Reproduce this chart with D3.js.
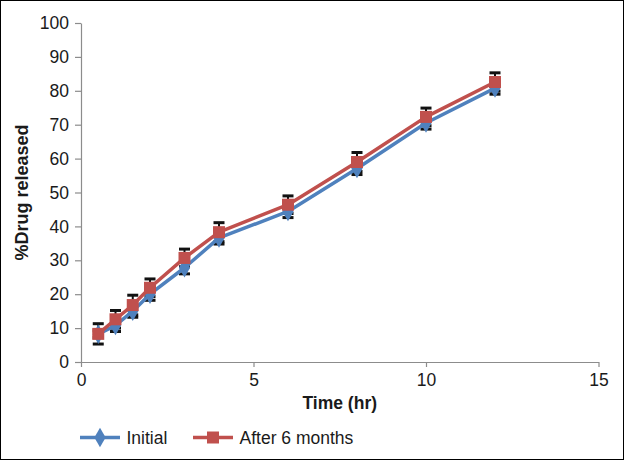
<!DOCTYPE html>
<html>
<head>
<meta charset="utf-8">
<script src="https://cdn.jsdelivr.net/npm/d3@7"></script>
<style>
  html, body { margin: 0; padding: 0; background: #fff; }
  svg { display: block; }
  text { font-family: "Liberation Sans", Arial, Helvetica, sans-serif; }
</style>
</head>
<body>
<svg id="chart" width="624" height="460"></svg>
<script>
// ---- data ----
const timeHr       = [0.5, 1, 1.5, 2, 3, 4, 6, 8, 10, 12];
const initialVals  = [8.2, 10.8, 15.0, 20.0, 27.8, 36.6, 44.4, 57.1, 70.5, 80.8];
const initialErr   = [1.0, 1.8, 1.8, 1.8, 1.8, 1.8, 1.8, 1.8, 1.8, 1.8];
const afterVals    = [8.3, 12.6, 16.8, 21.9, 30.7, 38.3, 46.4, 59.0, 72.3, 82.6];
const afterErr     = [3.0, 2.6, 2.9, 2.6, 2.6, 2.8, 2.6, 2.8, 2.6, 2.7];
const seriesNames  = ["Initial", "After 6 months"];
const xTicks       = [0, 5, 10, 15];
const yTicks       = [0, 10, 20, 30, 40, 50, 60, 70, 80, 90, 100];
const xTitle       = "Time (hr)";
const yTitle       = "%Drug released";

const colors = ["#4F81BD", "#C0504D"];

const svg = d3.select("#chart");
const W = 624, H = 460;

// outer border
svg.append("rect").attr("x", 0.5).attr("y", 0.5).attr("width", W - 1).attr("height", H - 1)
  .attr("fill", "#fff").attr("stroke", "#000").attr("stroke-width", 1);

const x = d3.scaleLinear().domain([0, 15]).range([81, 598.5]);
const y = d3.scaleLinear().domain([0, 100]).range([362, 23]);

const axisColor = "#8c8c8c";
const tickFont = "17.5px";

// y axis
const yAxis = svg.append("g").attr("transform", `translate(${x(0)},0)`)
  .call(d3.axisLeft(y).tickValues(yTicks).tickSize(6).tickSizeOuter(0).tickPadding(6));
yAxis.select(".domain").attr("stroke", axisColor).attr("stroke-width", 1.2);
yAxis.selectAll(".tick line").attr("stroke", axisColor).attr("stroke-width", 1.2);
yAxis.selectAll(".tick text").attr("fill", "#1a1a1a").style("font-size", tickFont)
  .style("font-family", '"Liberation Sans", Arial, sans-serif');

// x axis
const xAxis = svg.append("g").attr("transform", `translate(0,${y(0)})`)
  .call(d3.axisBottom(x).tickValues(xTicks).tickSize(5).tickSizeOuter(0).tickPadding(7));
xAxis.select(".domain").attr("stroke", axisColor).attr("stroke-width", 1.2);
xAxis.selectAll(".tick line").attr("stroke", axisColor).attr("stroke-width", 1.2);
xAxis.selectAll(".tick text").attr("fill", "#1a1a1a").style("font-size", tickFont)
  .style("font-family", '"Liberation Sans", Arial, sans-serif');

// axis titles
svg.append("text").attr("x", (x(0) + x(15)) / 2).attr("y", 409)
  .attr("text-anchor", "middle").style("font-size", "17.5px").style("font-weight", "bold")
  .attr("fill", "#1a1a1a").text(xTitle);
svg.append("text").attr("transform", `translate(28,${(y(0) + y(100)) / 2}) rotate(-90)`)
  .attr("text-anchor", "middle").style("font-size", "18px").style("font-weight", "bold")
  .attr("fill", "#1a1a1a").text(yTitle);

const series = [
  { name: seriesNames[0], vals: initialVals, err: initialErr, color: colors[0], shape: d3.symbolDiamond, size: 110 },
  { name: seriesNames[1], vals: afterVals, err: afterErr, color: colors[1], shape: d3.symbolSquare, size: 144 }
];

// error bars (drawn beneath lines and markers)
const eb = svg.append("g");
series.forEach(s => {
  timeHr.forEach((t, i) => {
    const cx = x(t), top = y(s.vals[i] + s.err[i]), bot = y(s.vals[i] - s.err[i]);
    eb.append("line").attr("x1", cx).attr("x2", cx).attr("y1", top).attr("y2", bot)
      .attr("stroke", "#111").attr("stroke-width", 2);
    [top, bot].forEach(yy => eb.append("line").attr("x1", cx - 5.5).attr("x2", cx + 5.5)
      .attr("y1", yy).attr("y2", yy).attr("stroke", "#111").attr("stroke-width", 3));
  });
});

// lines + markers
const line = d3.line().x(d => x(d[0])).y(d => y(d[1]));
series.forEach(s => {
  const pts = timeHr.map((t, i) => [t, s.vals[i]]);
  svg.append("path").datum(pts).attr("d", line).attr("fill", "none")
    .attr("stroke", s.color).attr("stroke-width", 3.5).attr("stroke-linejoin", "round");
  svg.append("g").selectAll("path").data(pts).join("path")
    .attr("transform", d => `translate(${x(d[0])},${y(d[1])})`)
    .attr("d", d3.symbol().type(s.shape).size(s.size)).attr("fill", s.color);
});

// legend
const legItems = [
  { s: series[0], x0: 80, tx: 126.5 },
  { s: series[1], x0: 193, tx: 239.5 }
];
legItems.forEach(li => {
  const ly = 437.5;
  svg.append("line").attr("x1", li.x0).attr("x2", li.x0 + 40).attr("y1", ly).attr("y2", ly)
    .attr("stroke", li.s.color).attr("stroke-width", 3.5);
  svg.append("path").attr("transform", `translate(${li.x0 + 20},${ly})`)
    .attr("d", d3.symbol().type(li.s.shape).size(li.s.size)).attr("fill", li.s.color);
  svg.append("text").attr("x", li.tx).attr("y", 443.5).style("font-size", "17.5px")
    .attr("fill", "#1a1a1a").text(li.s.name);
});
</script>
</body>
</html>
